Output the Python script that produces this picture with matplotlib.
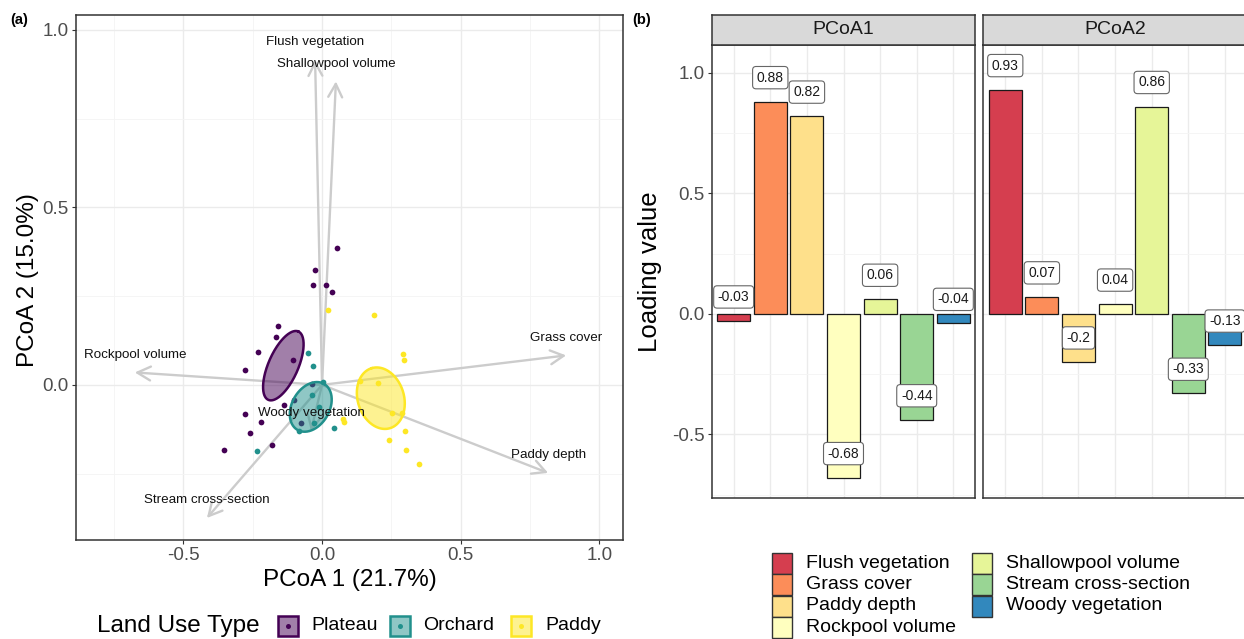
import numpy as np
import matplotlib
matplotlib.use("Agg")
import matplotlib.pyplot as plt
from matplotlib.patches import Rectangle

plt.rcParams['font.family'] = ['Liberation Sans', 'DejaVu Sans']
plt.rcParams['axes.unicode_minus'] = False

# ---------------- data ----------------
land_types = ['Plateau', 'Orchard', 'Paddy']
land_colors = ['#440154', '#21908C', '#FDE725']

plateau_x = [0.055, -0.026, -0.033, 0.013, 0.037, -0.157, -0.167, -0.231, -0.278, -0.103,
             -0.137, -0.100, -0.277, -0.219, -0.258, -0.179, -0.354, -0.077, -0.037]
plateau_y = [0.386, 0.325, 0.280, 0.280, 0.262, 0.165, 0.136, 0.093, 0.043, 0.069,
             -0.058, -0.042, -0.081, -0.104, -0.135, -0.169, -0.184, -0.106, 0.003]
orchard_x = [-0.052, -0.032, 0.005, -0.036, -0.010, -0.028, -0.082, 0.042, -0.235]
orchard_y = [0.089, 0.053, 0.007, -0.029, -0.063, -0.106, -0.129, -0.121, -0.187]
paddy_x = [0.023, 0.188, 0.293, 0.295, 0.137, 0.201, 0.252, 0.289, 0.299, 0.242,
           0.301, 0.348, 0.080, 0.075]
paddy_y = [0.212, 0.196, 0.087, 0.071, 0.011, 0.004, -0.078, -0.079, -0.131, -0.155,
           -0.184, -0.223, -0.104, -0.097]

# group SE ellipses: centre and two conjugate half-axes
ell_cx = [-0.1395, -0.0407, 0.2119]
ell_cy = [0.0541, -0.0620, -0.0375]
ell_ux = [0.0541, 0.0479, -0.0332]
ell_uy = [0.0963, 0.0648, 0.0845]
ell_vx = [0.0491, 0.0585, 0.0798]
ell_vy = [-0.0167, -0.0264, 0.0190]

variables = ['Flush vegetation', 'Grass cover', 'Paddy depth', 'Rockpool volume',
             'Shallowpool volume', 'Stream cross-section', 'Woody vegetation']
var_colors = ['#D53E4F', '#FC8D59', '#FEE08B', '#FFFFBF', '#E6F598', '#99D594', '#3288BD']
arrow_pc1 = [-0.025, 0.880, 0.815, -0.675, 0.050, -0.415, -0.040]
arrow_pc2 = [0.915, 0.083, -0.248, 0.035, 0.855, -0.375, -0.130]
loading_pcoa1 = [-0.03, 0.88, 0.82, -0.68, 0.06, -0.44, -0.04]
loading_pcoa2 = [0.93, 0.07, -0.2, 0.04, 0.86, -0.33, -0.13]
facets = ['PCoA1', 'PCoA2']

# ---------------- figure ----------------
W, H = 1244, 639
fig = plt.figure(figsize=(W / 100, H / 100), dpi=100)


def rect(x0, y0, x1, y1):
    """pixel box (top-left origin) -> figure fraction rect"""
    return [x0 / W, 1 - y1 / H, (x1 - x0) / W, (y1 - y0) / H]


def fp(x, y):
    return x / W, 1 - y / H


GRID = '#EBEBEB'
GRID_MINOR = '#F4F4F4'
BORDER = '#333333'
TICKC = '#4D4D4D'


def style_axes(ax):
    ax.set_facecolor('white')
    for s in ax.spines.values():
        s.set_color(BORDER)
        s.set_linewidth(1.1)
    ax.grid(True, which='major', color=GRID, lw=1.0, zorder=0)
    ax.grid(True, which='minor', color=GRID_MINOR, lw=0.6, zorder=0)
    ax.set_axisbelow(True)
    ax.tick_params(which='major', length=3, width=0.8, color=BORDER, labelcolor=TICKC,
                   labelsize=13.5, pad=2)
    ax.tick_params(which='minor', length=0)


# ---------------- panel (a) ----------------
ax = fig.add_axes(rect(75.7, 15, 623.3, 540))
style_axes(ax)
ax.set_xlim(-0.888, 1.086)
ax.set_ylim(-0.437, 1.042)
ax.set_xticks([-0.5, 0.0, 0.5, 1.0])
ax.set_xticklabels(['-0.5', '0.0', '0.5', '1.0'])
ax.set_yticks([0.0, 0.5, 1.0])
ax.set_yticklabels(['0.0', '0.5', '1.0'])
ax.set_xticks([-0.75, -0.25, 0.25, 0.75], minor=True)
ax.set_yticks([-0.25, 0.25, 0.75], minor=True)

# arrows
for tx, ty in zip(arrow_pc1, arrow_pc2):
    ax.annotate('', xy=(tx, ty), xytext=(0, 0),
                arrowprops=dict(arrowstyle='->,head_length=0.95,head_width=0.5',
                                color='#CCCCCC', lw=1.7, shrinkA=0, shrinkB=0,
                                mutation_scale=10), zorder=2)

groups = [(plateau_x, plateau_y), (orchard_x, orchard_y), (paddy_x, paddy_y)]
for (gx, gy), col in zip(groups, land_colors):
    ax.scatter(gx, gy, s=17, color=col, linewidths=0, zorder=3)

t = np.linspace(0, 2 * np.pi, 240)
for i, col in enumerate(land_colors):
    ex = ell_cx[i] + ell_ux[i] * np.cos(t) + ell_vx[i] * np.sin(t)
    ey = ell_cy[i] + ell_uy[i] * np.cos(t) + ell_vy[i] * np.sin(t)
    ax.fill(ex, ey, facecolor=col, alpha=0.5, edgecolor='none', zorder=4)
    ax.plot(ex, ey, color=col, lw=1.8, zorder=5)

for name, tx, ty in zip(variables, arrow_pc1, arrow_pc2):
    ax.text(tx, ty + 0.05, name, ha='center', va='center', fontsize=9.6,
            color='#111111', zorder=6)

fig.text(*fp(349.5, 580), 'PCoA 1 (21.7%)', ha='center', va='center', fontsize=17.5)
fig.text(*fp(28, 280), 'PCoA 2 (15.0%)', ha='center', va='center', fontsize=17.5,
         rotation=90)
fig.text(*fp(10, 20), '(a)', ha='left', va='center', fontsize=10.5, fontweight='bold')

# legend (a)
fig.text(*fp(97, 626), 'Land Use Type', ha='left', va='center', fontsize=17.5)
key_cx = [288, 400, 521]
label_x = [311, 423, 545]
for name, col, cx, lx in zip(land_types, land_colors, key_cx, label_x):
    x0, y0 = fp(cx - 10, 626 + 10)
    fig.add_artist(Rectangle((x0, y0), 20 / W, 20 / H, transform=fig.transFigure,
                             facecolor=col, alpha=0.5, edgecolor='none'))
    fig.add_artist(Rectangle((x0, y0), 20 / W, 20 / H, transform=fig.transFigure,
                             facecolor='none', edgecolor=col, lw=1.8))
    dx, dy = fp(cx, 626)
    fig.add_artist(plt.Line2D([dx], [dy], marker='o', markersize=3.6, color=col,
                              markeredgewidth=0, transform=fig.transFigure))
    fig.text(*fp(lx, 626), name, ha='left', va='center', fontsize=14)

# ---------------- panel (b) ----------------
all_vals = np.array(loading_pcoa1 + loading_pcoa2)
lo = all_vals.min()
hi = (all_vals + 0.1).max()
pad = 0.05 * (hi - lo)
xpos = np.arange(1, len(variables) + 1)

panel_x = [(711.7, 975.3), (983.3, 1246.9)]
for (x0, x1), fname, vals in zip(panel_x, facets, [loading_pcoa1, loading_pcoa2]):
    bx = fig.add_axes(rect(x0, 45, x1, 498.3))
    style_axes(bx)
    bx.set_xlim(0.4, len(variables) + 0.6)
    bx.set_ylim(lo - pad, hi + pad)
    bx.set_xticks(xpos)
    bx.set_xticklabels([])
    bx.tick_params(axis='x', length=0)
    bx.set_yticks([-0.5, 0.0, 0.5, 1.0])
    bx.set_yticks([-0.75, -0.25, 0.25, 0.75], minor=True)
    if fname == 'PCoA1':
        bx.set_yticklabels(['-0.5', '0.0', '0.5', '1.0'])
    else:
        bx.set_yticklabels([])
        bx.tick_params(axis='y', length=0)
    bx.bar(xpos, vals, width=0.9, color=var_colors, edgecolor='#1A1A1A', lw=0.9, zorder=2)
    for xi, v in zip(xpos, vals):
        bx.text(xi, v + 0.1, f'{v:g}', ha='center', va='center', fontsize=10,
                color='#1A1A1A', zorder=5,
                bbox=dict(boxstyle='round,pad=0.3,rounding_size=0.25', fc='white',
                          ec='#666666', lw=0.8))
    sx = fig.add_axes(rect(x0, 15, x1, 45))
    sx.set_facecolor('#D9D9D9')
    sx.set_xticks([])
    sx.set_yticks([])
    for s in sx.spines.values():
        s.set_color(BORDER)
        s.set_linewidth(1.1)
    sx.text(0.5, 0.5, fname, ha='center', va='center', fontsize=14, color='#1A1A1A',
            transform=sx.transAxes)

fig.text(*fp(650, 272), 'Loading value', ha='center', va='center', fontsize=18.5,
         rotation=90)
fig.text(*fp(632, 20), '(b)', ha='left', va='center', fontsize=10.5, fontweight='bold')

# legend (b)
col_key_x = [772, 972]
row_y = [563, 584.5, 606, 627.5]
for i, (name, col) in enumerate(zip(variables, var_colors)):
    c, r = (0, i) if i < 4 else (1, i - 4)
    kx = col_key_x[c]
    ky = row_y[r]
    x0, y0 = fp(kx, ky + 10.5)
    fig.add_artist(Rectangle((x0, y0), 20 / W, 21 / H, transform=fig.transFigure,
                             facecolor=col, edgecolor='#333333', lw=1.0))
    fig.text(*fp(kx + 34, ky), name, ha='left', va='center', fontsize=14)

fig.savefig('out.png', dpi=100)
